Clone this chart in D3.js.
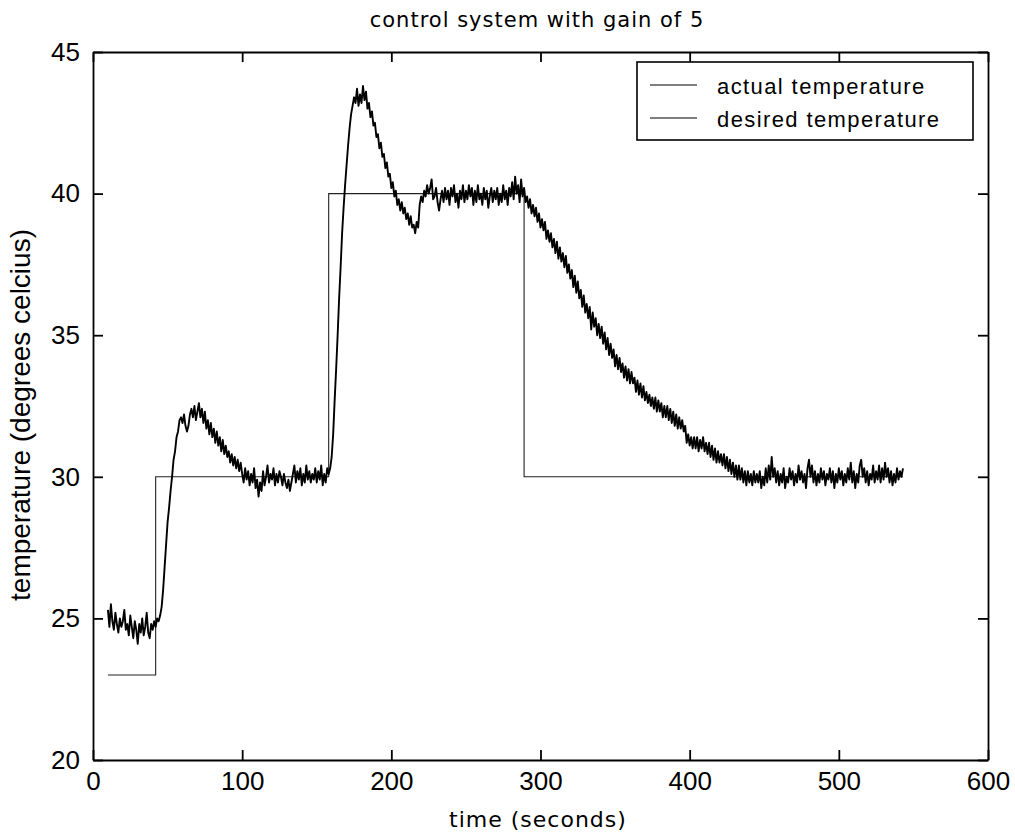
<!DOCTYPE html>
<html>
<head>
<meta charset="utf-8">
<script src="https://cdn.jsdelivr.net/npm/d3@7"></script>
<style>
  body { margin: 0; background: #fff; }
  .axis path, .axis line { stroke: #000; stroke-width: 1.8; }
  .axis text { font-family: "Liberation Sans", Arial, sans-serif; font-size: 26px; fill: #000; }
</style>
</head>
<body>
<div id="chart"></div>
<script>
// measured temperature, one reading per second starting at t = 10 s
const actualStart = 10;
const actualTemp = [
  25.3, 24.7, 25.5, 24.9, 24.6, 25.2, 24.8, 24.5, 25.0, 24.7,
  24.9, 25.3, 24.6, 24.8, 24.4, 25.1, 24.7, 24.3, 24.9, 24.6,
  24.1, 24.8, 24.5, 25.0, 24.4, 24.7, 25.2, 24.5, 24.3, 24.8,
  24.6, 24.9, 24.7, 25.0, 24.9, 25.1, 25.4, 26.0, 26.8, 27.6,
  28.4, 28.9, 29.5, 30.0, 30.6, 30.9, 31.4, 31.6, 32.0, 32.1,
  31.9, 32.2, 31.8, 31.6, 31.8, 32.2, 32.4, 32.1, 32.5, 32.0,
  32.3, 32.6, 32.1, 32.4, 31.9, 32.3, 31.7, 32.0, 31.5, 31.9,
  31.4, 31.7, 31.2, 31.6, 31.1, 31.4, 30.9, 31.3, 30.8, 31.1,
  30.7, 30.9, 30.5, 30.8, 30.4, 30.7, 30.3, 30.6, 30.2, 30.5,
  30.1, 29.8, 30.3, 29.9, 30.2, 29.7, 30.1, 29.8, 30.3, 29.6,
  29.9, 29.3, 29.8, 29.5, 30.2, 29.7, 30.0, 30.4, 29.8, 30.1,
  29.9, 30.3, 29.7, 30.1, 29.8, 30.2, 30.0, 29.7, 30.1, 29.8,
  29.6, 29.9, 29.5, 29.8, 30.1, 30.4, 29.8, 30.2, 29.9, 30.3,
  29.7, 30.1, 29.8, 30.4, 29.9, 30.2, 29.8, 30.1, 29.9, 30.3,
  29.8, 30.2, 29.9, 30.4, 29.7, 30.1, 29.8, 30.3, 30.1, 30.3,
  30.7, 31.5, 32.7, 33.8, 35.0, 36.3, 37.4, 38.6, 39.5, 40.3,
  41.0, 41.7, 42.3, 42.8, 43.1, 43.4, 43.2, 43.7, 43.1, 43.5,
  43.2, 43.8, 43.3, 43.6, 43.0, 43.2, 42.7, 42.9, 42.4, 42.5,
  42.0, 42.1, 41.6, 41.8, 41.3, 41.4, 40.9, 41.1, 40.6, 40.7,
  40.2, 40.4, 39.9, 40.1, 39.6, 39.8, 39.4, 39.7, 39.3, 39.5,
  39.1, 39.3, 38.9, 39.2, 38.8, 38.9, 38.6, 39.0, 38.8, 39.6,
  39.9, 39.7, 40.1, 39.9, 40.3, 40.0, 40.2, 40.5, 39.8, 39.9,
  40.2, 39.7, 39.4, 39.8, 40.1, 39.7, 40.2, 39.8, 40.1, 39.6,
  40.2, 39.9, 40.3, 39.7, 40.0, 39.5, 40.1, 39.8, 40.3, 39.7,
  40.1, 39.8, 40.3, 39.9, 40.2, 39.6, 40.1, 39.7, 40.3, 39.8,
  40.0, 39.6, 40.2, 39.8, 40.1, 39.5, 39.9, 40.2, 39.7, 40.1,
  39.8, 40.2, 39.6, 40.0, 39.7, 40.3, 39.8, 40.1, 39.6, 40.2,
  39.9, 40.4, 39.8, 40.6, 40.0, 40.3, 39.7, 40.5, 39.9, 40.2,
  39.7, 39.9, 39.5, 39.8, 39.3, 39.6, 39.2, 39.5, 39.0, 39.3,
  38.8, 39.1, 38.7, 39.0, 38.4, 38.7, 38.3, 38.6, 38.1, 38.4,
  37.9, 38.3, 37.7, 38.1, 37.6, 37.9, 37.4, 37.8, 37.2, 37.5,
  37.0, 37.3, 36.7, 37.1, 36.5, 36.9, 36.3, 36.6, 36.0, 36.4,
  35.8, 36.1, 35.6, 36.0, 35.2, 35.8, 35.3, 35.6, 35.0, 35.4,
  34.9, 35.3, 34.7, 35.1, 34.5, 34.9, 34.3, 34.7, 34.2, 34.5,
  33.9, 34.3, 33.8, 34.2, 33.7, 34.0, 33.5, 33.9, 33.4, 33.8,
  33.3, 33.7, 33.3, 33.5, 33.0, 33.4, 32.9, 33.3, 32.8, 33.2,
  32.7, 33.0, 32.6, 32.9, 32.5, 32.8, 32.4, 32.8, 32.3, 32.7,
  32.3, 32.6, 32.1, 32.5, 32.1, 32.5, 32.0, 32.4, 31.9, 32.3,
  31.8, 32.2, 31.7, 32.1, 31.7, 32.0, 31.6, 31.8, 31.2, 31.5,
  31.1, 31.4, 31.0, 31.4, 31.0, 31.4, 30.9, 31.3, 31.0, 31.4,
  30.9, 31.2, 30.8, 31.2, 30.7, 31.1, 30.6, 31.0, 30.5, 30.9,
  30.5, 30.8, 30.4, 30.8, 30.3, 30.7, 30.2, 30.6, 30.1, 30.5,
  30.0, 30.4, 29.9, 30.4, 29.9, 30.3, 29.8, 30.2, 29.7, 30.2,
  29.8, 30.1, 29.7, 30.2, 29.8, 30.1, 29.8, 30.2, 29.6, 30.0,
  29.7, 30.3, 29.8, 30.4, 29.9, 30.7, 30.0, 30.3, 29.8, 30.2,
  29.7, 30.1, 29.8, 30.3, 29.6, 30.0, 29.8, 30.3, 29.9, 30.2,
  29.7, 30.1, 29.8, 30.4, 29.9, 30.2, 29.8, 30.1, 29.6, 30.3,
  30.6, 30.0, 30.4, 29.8, 30.2, 29.7, 30.1, 29.8, 30.3, 29.9,
  30.2, 29.7, 30.1, 29.9, 30.3, 29.8, 30.2, 29.6, 30.1, 29.8,
  30.3, 29.9, 30.2, 29.7, 30.1, 29.8, 30.3, 29.9, 30.5, 29.8,
  30.2, 29.6, 30.1, 29.8, 30.4, 30.6, 30.0, 30.3, 29.8, 30.2,
  29.7, 30.1, 29.9, 30.4, 29.8, 30.2, 29.9, 30.4, 29.8, 30.3,
  29.9, 30.5, 30.0, 30.3, 29.8, 30.2, 29.7, 30.1, 29.8, 30.3,
  29.9, 30.2, 30.0, 30.3
];

// setpoint: value holds from each time until the next one
const setTimes = [10, 42, 158, 289, 543];
const setTemps = [23, 30, 40, 30, 30];

const xTicks = [0, 100, 200, 300, 400, 500, 600];
const yTicks = [20, 25, 30, 35, 40, 45];
const legendLabels = ["actual temperature", "desired temperature"];

const margin = {top: 52, right: 27, bottom: 79, left: 93};
const width = 1015 - margin.left - margin.right;
const height = 839 - margin.top - margin.bottom;

const root = d3.select("#chart")
    .append("svg")
    .attr("width", 1015)
    .attr("height", 839);

const svg = root.append("g")
    .attr("transform", `translate(${margin.left},${margin.top})`);

const x = d3.scaleLinear().domain([0, 600]).range([0, width]);
const y = d3.scaleLinear().domain([20, 45]).range([height, 0]);

// axes, ticks pointing inward on all four sides
svg.append("g")
    .attr("class", "axis")
    .attr("transform", `translate(0,${height})`)
    .call(d3.axisBottom(x).tickValues(xTicks).tickSize(-10).tickSizeOuter(0).tickPadding(12).tickFormat(d3.format("d")));

svg.append("g")
    .attr("class", "axis")
    .call(d3.axisTop(x).tickValues(xTicks).tickSize(-10).tickSizeOuter(0).tickFormat(""));

svg.append("g")
    .attr("class", "axis")
    .call(d3.axisLeft(y).tickValues(yTicks).tickSize(-10).tickSizeOuter(0).tickPadding(13).tickFormat(d3.format("d")));

svg.append("g")
    .attr("class", "axis")
    .attr("transform", `translate(${width},0)`)
    .call(d3.axisRight(y).tickValues(yTicks).tickSize(-10).tickSizeOuter(0).tickFormat(""));

// desired temperature (step)
const desired = setTimes.map((t, i) => ({t: t, v: setTemps[i]}));
svg.append("path")
    .datum(desired)
    .attr("fill", "none")
    .attr("stroke", "#222")
    .attr("stroke-width", 1.1)
    .attr("d", d3.line().x(d => x(d.t)).y(d => y(d.v)).curve(d3.curveStepAfter));

// actual temperature
const actual = actualTemp.map((v, i) => ({t: actualStart + i, v: v}));
svg.append("path")
    .datum(actual)
    .attr("fill", "none")
    .attr("stroke", "#000")
    .attr("stroke-width", 1.9)
    .attr("stroke-linejoin", "round")
    .attr("d", d3.line().x(d => x(d.t)).y(d => y(d.v)));

// Legend
const legend = svg.append("g")
    .attr("transform", "translate(544,10)");

legend.append("rect")
    .attr("width", 336)
    .attr("height", 78)
    .attr("fill", "#fff")
    .attr("stroke", "#000")
    .attr("stroke-width", 1.6);

legendLabels.forEach((label, i) => {
    legend.append("line")
        .attr("x1", 13)
        .attr("x2", 60)
        .attr("y1", 23 + i * 33)
        .attr("y2", 23 + i * 33)
        .attr("stroke", "#000")
        .attr("stroke-width", 1.1);
    legend.append("text")
        .attr("x", 80)
        .attr("y", 32 + i * 33)
        .style("font-family", "'Liberation Sans', Arial, sans-serif")
        .style("font-size", "22px")
        .style("letter-spacing", "1.4px")
        .text(label);
});

// title and axis labels
root.append("text")
    .attr("x", 537)
    .attr("y", 27)
    .attr("text-anchor", "middle")
    .style("font-family", "'DejaVu Sans', sans-serif")
    .style("font-size", "21px")
    .style("letter-spacing", "1px")
    .text("control system with gain of 5");

root.append("text")
    .attr("x", 538)
    .attr("y", 827)
    .attr("text-anchor", "middle")
    .style("font-family", "'DejaVu Sans', sans-serif")
    .style("font-size", "22px")
    .style("letter-spacing", "1px")
    .text("time (seconds)");

root.append("text")
    .attr("transform", "rotate(-90)")
    .attr("x", -415)
    .attr("y", 30)
    .attr("text-anchor", "middle")
    .style("font-family", "'Liberation Sans', Arial, sans-serif")
    .style("font-size", "28px")
    .text("temperature (degrees celcius)");
</script>
</body>
</html>
